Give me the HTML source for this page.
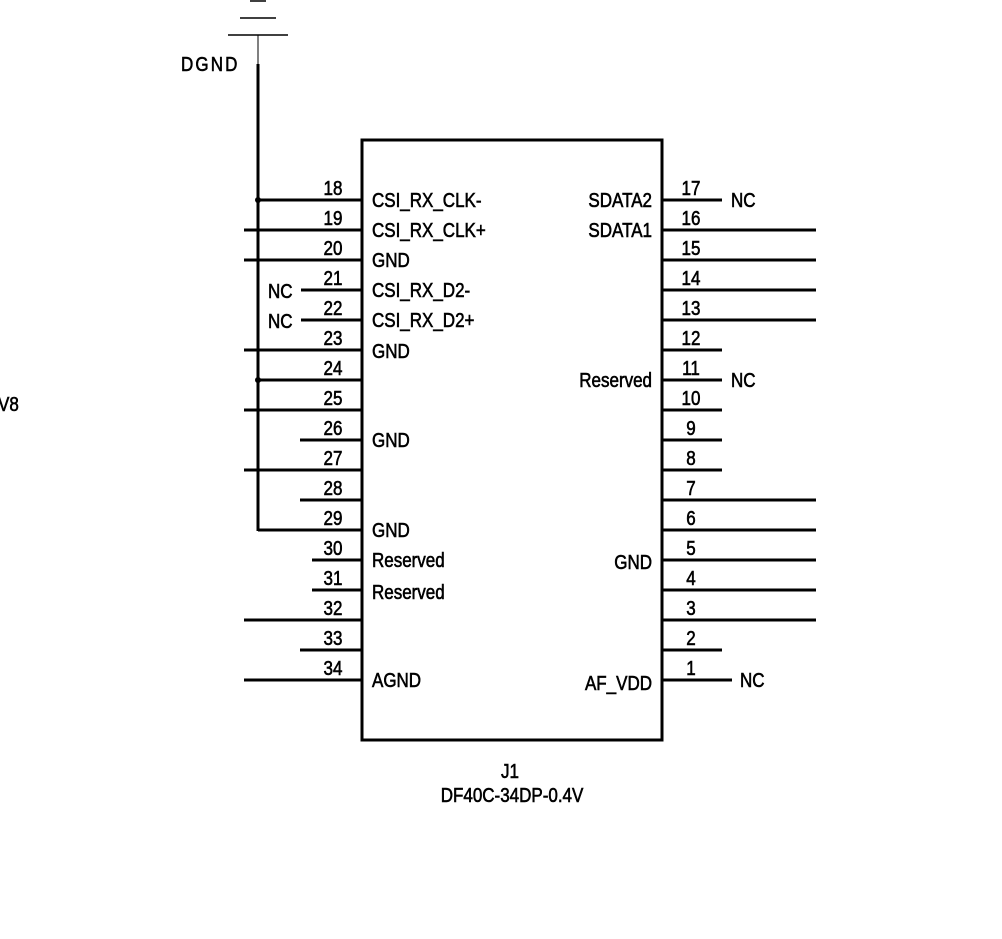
<!DOCTYPE html>
<html><head><meta charset="utf-8"><style>
body{margin:0;background:#fff}
svg text{font-family:"Liberation Sans",sans-serif;font-size:20px;fill:#000;stroke:#000;stroke-width:0.6;transform-box:fill-box;transform-origin:left center;transform:scaleX(0.85)}
svg text.m{transform-origin:center center}
svg text.e{transform-origin:right center}
</style></head><body>
<svg width="1002" height="934" viewBox="0 0 1002 934">
<g stroke="#000" stroke-width="1.5">
<line x1="250" y1="1" x2="266" y2="1"/>
<line x1="240" y1="18" x2="276" y2="18"/>
<line x1="228" y1="35" x2="288" y2="35"/>
<line x1="258" y1="35" x2="258" y2="64" stroke-width="1"/>
</g>
<line x1="258" y1="64" x2="258" y2="531" stroke="#000" stroke-width="3"/>
<text x="181" y="71" style="letter-spacing:2.5px">DGND</text>
<text x="-2" y="411">V8</text>
<rect x="362" y="140" width="300" height="600" fill="none" stroke="#000" stroke-width="3"/>
<g id="pins"></g>
<circle cx="258" cy="200" r="3"/>
<circle cx="258" cy="380" r="3"/>
<text x="510" y="778" class="m" text-anchor="middle">J1</text>
<text x="512" y="802" class="m" text-anchor="middle">DF40C-34DP-0.4V</text>
</svg>
<script>
const leftPins=[18,19,20,21,22,23,24,25,26,27,28,29,30,31,32,33,34];
const leftStart=[258,244,244,301,301,244,258,244,300,244,300,258,312,312,244,300,244];
const leftLabels={18:"CSI_RX_CLK-",19:"CSI_RX_CLK+",20:"GND",21:"CSI_RX_D2-",22:"CSI_RX_D2+"};
const leftExtra=[["GND",351],["GND",440],["GND",530],["Reserved",560],["Reserved",592],["AGND",680]];
const rightPins=[17,16,15,14,13,12,11,10,9,8,7,6,5,4,3,2,1];
const rightEnd=[722,816,816,816,816,722,722,722,722,722,816,816,816,816,816,722,732];
const rightLabels=[["SDATA2",200],["SDATA1",230],["Reserved",380],["GND",562],["AF_VDD",683]];
const ncLeft=[291,321];const ncRight=[[731,200],[731,380],[740,680]];
const g=document.getElementById('pins');const NS="http://www.w3.org/2000/svg";
function mk(t,a){const e=document.createElementNS(NS,t);for(const k in a)e.setAttribute(k,a[k]);g.appendChild(e);return e;}
leftPins.forEach((p,i)=>{const y=200+i*30;
const l=mk('line',{x1:leftStart[i],y1:y,x2:362,y2:y,stroke:'#000','stroke-width':3});


const t=mk('text',{x:333,y:y-5,'text-anchor':'middle','class':'m'});t.textContent=p;


if(leftLabels[p]){const s=mk('text',{x:372,y:y+7});s.textContent=leftLabels[p];

}
});
leftExtra.forEach(([txt,y])=>{const s=mk('text',{x:372,y:y+7});s.textContent=txt;

});
rightPins.forEach((p,i)=>{const y=200+i*30;
const l=mk('line',{x1:662,y1:y,x2:rightEnd[i],y2:y,stroke:'#000','stroke-width':3});


const t=mk('text',{x:691,y:y-5,'text-anchor':'middle','class':'m'});t.textContent=p;


});
rightLabels.forEach(([txt,y])=>{const s=mk('text',{x:652,y:y+7,'text-anchor':'end','class':'e'});s.textContent=txt;

});
ncLeft.forEach(y=>{const s=mk('text',{x:268,y:y+7});s.textContent="NC";

});
ncRight.forEach(([x,y])=>{const s=mk('text',{x:x,y:y+7});s.textContent="NC";

});
</script>
</body></html>
